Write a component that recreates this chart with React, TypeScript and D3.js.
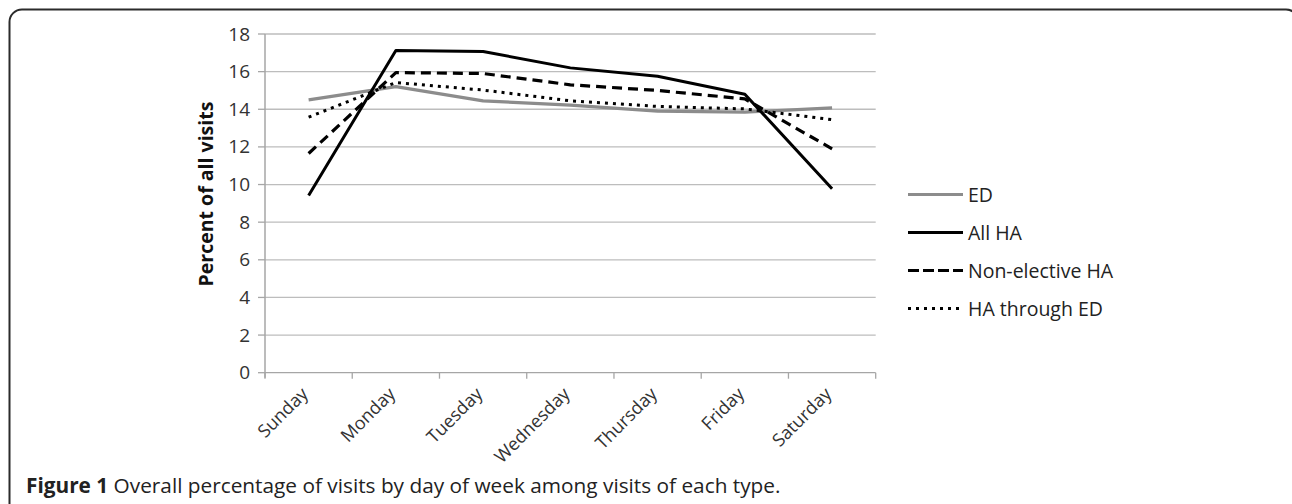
import React from "react";
import * as d3 from "d3";

const days = ["Sunday", "Monday", "Tuesday", "Wednesday", "Thursday", "Friday", "Saturday"];
const edValues = [14.5, 15.2, 14.45, 14.22, 13.9, 13.85, 14.07];
const allHaValues = [9.42, 17.12, 17.07, 16.2, 15.75, 14.8, 9.78];
const nonElectiveValues = [11.65, 15.95, 15.9, 15.3, 15.0, 14.55, 11.9];
const haThroughEdValues = [13.58, 15.42, 15.02, 14.45, 14.15, 14.02, 13.45];
const yTicks = [0, 2, 4, 6, 8, 10, 12, 14, 16, 18];

const seriesNames = ["ED", "All HA", "Non-elective HA", "HA through ED"];
const seriesValues = [edValues, allHaValues, nonElectiveValues, haThroughEdValues];
const seriesStyles = [
  { stroke: "#8c8c8c", dash: "none", width: 3.2 },
  { stroke: "#000000", dash: "none", width: 3 },
  { stroke: "#000000", dash: "10,6", width: 3.2 },
  { stroke: "#000000", dash: "3,5", width: 3 },
];

const font = "'Open Sans', 'Liberation Sans', sans-serif";

export default function App() {
  const x = d3.scaleBand<string>().domain(days).range([265, 875.7]);
  const y = d3.scaleLinear().domain([0, 18]).range([372.7, 34]);
  const line = d3
    .line<number>()
    .x((_, i) => (x(days[i]) as number) + x.bandwidth() / 2)
    .y((v) => y(v));

  const legendX = 908;
  const legendY0 = 194.5;
  const legendStep = 38;

  return (
    <svg
      width={1292}
      height={504}
      style={{ position: "absolute", left: 0, top: 0, background: "#fff" }}
    >
      <rect x={0} y={0} width={1292} height={504} fill="#fff" />
      <path
        d="M 9.5 504 L 9.5 22 A 12.5 12.5 0 0 1 22 9.5 L 1286 9.5 A 12.5 12.5 0 0 1 1298.5 22 L 1298.5 504"
        fill="none"
        stroke="#2b2b2b"
        strokeWidth={2}
      />
      {/* gridlines */}
      {yTicks.map((t) => (
        <line
          key={"g" + t}
          x1={265}
          x2={875.7}
          y1={y(t)}
          y2={y(t)}
          stroke={t === 0 ? "#a6a6a6" : "#bdbdbd"}
          strokeWidth={1.3}
        />
      ))}
      {/* y axis */}
      <line x1={265} x2={265} y1={y(18)} y2={y(0) + 5} stroke="#a6a6a6" strokeWidth={1.5} />
      {yTicks.map((t) => (
        <g key={"yt" + t}>
          <line x1={258} x2={265} y1={y(t)} y2={y(t)} stroke="#a6a6a6" strokeWidth={1.3} />
          <text
            x={250}
            y={y(t) + 6.5}
            textAnchor="end"
            fontFamily={font}
            fontSize={19}
            fill="#333"
          >
            {t}
          </text>
        </g>
      ))}
      {/* x ticks */}
      {[...days.map((d) => x(d) as number), 875.7].map((px, i) => (
        <line key={"xt" + i} x1={px} x2={px} y1={y(0)} y2={y(0) + 6} stroke="#a6a6a6" strokeWidth={1.3} />
      ))}
      {days.map((d) => {
        const cx = (x(d) as number) + x.bandwidth() / 2 + 0.5;
        const cy = 395;
        return (
          <text
            key={"xl" + d}
            x={cx}
            y={cy}
            textAnchor="end"
            fontFamily={font}
            fontSize={18}
            fill="#333"
            transform={`rotate(-45 ${cx} ${cy})`}
          >
            {d}
          </text>
        );
      })}
      {/* y title */}
      <text
        x={0}
        y={0}
        transform={`translate(213 194) rotate(-90)`}
        textAnchor="middle"
        fontFamily={font}
        fontWeight="bold"
        fontSize={19.5}
        fill="#111"
      >
        Percent of all visits
      </text>
      {/* series */}
      {seriesValues.map((vals, i) => (
        <path
          key={"s" + i}
          d={line(vals) as string}
          fill="none"
          stroke={seriesStyles[i].stroke}
          strokeWidth={seriesStyles[i].width}
          strokeDasharray={seriesStyles[i].dash}
          strokeLinejoin="round"
        />
      ))}
      {/* legend */}
      {seriesNames.map((n, i) => {
        const ly = legendY0 + i * legendStep;
        return (
          <g key={"lg" + i}>
            <line
              x1={legendX}
              x2={legendX + 55}
              y1={ly}
              y2={ly}
              stroke={seriesStyles[i].stroke}
              strokeWidth={seriesStyles[i].width}
              strokeDasharray={seriesStyles[i].dash === "10,6" ? "11,4" : seriesStyles[i].dash}
            />
            <text x={legendX + 60} y={ly + 7} fontFamily={font} fontSize={19.5} fill="#222">
              {n}
            </text>
          </g>
        );
      })}
      {/* caption */}
      <text x={26} y={493} fontFamily={font} fontSize={20.8} fill="#222">
        <tspan fontWeight="bold">Figure 1</tspan> Overall percentage of visits by day of week among visits of each type.
      </text>
    </svg>
  );
}
